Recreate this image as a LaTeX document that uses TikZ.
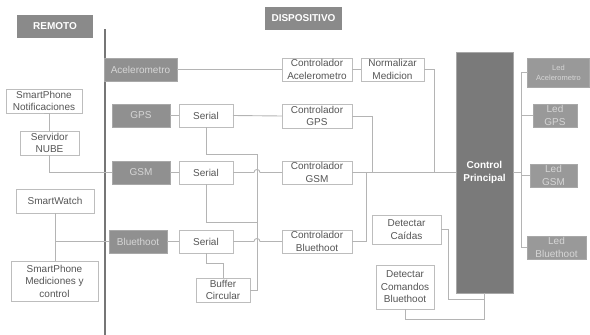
\documentclass[tikz,border=0pt]{standalone}
\usepackage{fontspec}
\setmainfont{Liberation Sans}
\usetikzlibrary{calc}
\definecolor{lnc}{HTML}{B4B4B4}
\definecolor{bdc}{HTML}{BDBDBD}
\definecolor{txc}{HTML}{555555}
\definecolor{gfill}{HTML}{909090}
\definecolor{gbord}{HTML}{A8A8A8}
\definecolor{gtxt}{HTML}{D6D6D6}
\definecolor{hfill}{HTML}{8A8A8A}
\definecolor{cfill}{HTML}{7A7A7A}
\definecolor{divc}{HTML}{767676}
\begin{document}
\begin{tikzpicture}[x=1pt,y=-1pt,
  every node/.style={inner sep=0pt, outer sep=0pt, align=center, font=\fontsize{10}{12.5}\selectfont},
  wbox/.style={draw=bdc, line width=0.9pt, fill=white, text=txc},
  gbox/.style={draw=gbord, line width=0.9pt, fill=gfill, text=gtxt},
  hbox/.style={fill=hfill, text=white, font=\fontsize{10}{12.5}\selectfont\bfseries},
  lbox/.style={draw=gbord, line width=0.9pt, fill=gfill!92!white, text=gtxt},
  conn/.style={draw=lnc, line width=0.9pt},
  sz/.style 2 args={minimum width=#1pt, minimum height=#2pt}
]
\useasboundingbox (0,0) rectangle (590,335);
% headers
\node[hbox, sz={76}{23}] (rem) at (55,26.5) {REMOTO};
\node[hbox, sz={77}{23}] (disp) at (303.5,18.5) {DISPOSITIVO};
% divider
\coordinate (dtop) at (104.5,29);
\coordinate (dbot) at (104.5,335);
\draw[divc, line width=2pt] (dtop) -- (dbot);
% remote
\node[wbox, sz={76}{24}] (spn) at (44,101) {SmartPhone\\Notificaciones};
\node[wbox, sz={59}{24}] (serv) at (49.5,143) {Servidor\\NUBE};
\node[wbox, sz={78}{24}] (sw) at (55,201) {SmartWatch};
\node[wbox, sz={87}{40}] (spm) at (54.5,281) {SmartPhone\\Mediciones y\\control};
% sensors
\node[gbox, sz={73}{23}] (acel) at (140.5,69.5) {Acelerometro};
\node[gbox, sz={58}{23}] (gps) at (141,115.5) {GPS};
\node[gbox, sz={58}{23}] (gsm) at (141,172.5) {GSM};
\node[gbox, sz={58}{23}] (bt) at (138,241.5) {Bluethoot};
% serials
\node[wbox, sz={54}{23}] (sgps) at (206,115.5) {Serial};
\node[wbox, sz={54}{23}] (sgsm) at (206,172.5) {Serial};
\node[wbox, sz={54}{23}] (sbt) at (206,241.5) {Serial};
\node[wbox, sz={54}{24}] (buf) at (223,290) {Buffer\\Circular};
% controllers
\node[wbox, sz={70}{23}] (cacel) at (317,69.5) {Controlador\\Acelerometro};
\node[wbox, sz={63}{23}] (norm) at (392.5,69.5) {Normalizar\\Medicion};
\node[wbox, sz={70}{24}] (cgps) at (317,116) {Controlador\\GPS};
\node[wbox, sz={70}{23}] (cgsm) at (317,172.5) {Controlador\\GSM};
\node[wbox, sz={70}{23}] (cbt) at (317,241.5) {Controlador\\Bluethoot};
\node[wbox, sz={69}{29}] (dcai) at (406.5,229.5) {Detectar\\Caídas};
\node[wbox, sz={58}{44}] (dcom) at (405,287) {Detectar\\Comandos\\Bluethoot};
% control principal
\node[fill=cfill, draw=gbord, line width=0.5pt, text=white, font=\fontsize{10}{12.5}\selectfont\bfseries, sz={57}{241}] (cp) at (484.5,172.5) {Control\\Principal};
% leds
\node[lbox, sz={62}{29}, font=\fontsize{7.5}{10}\selectfont] (lacel) at (558.5,72.5) {Led\\Acelerometro};
\node[lbox, sz={44}{23}] (lgps) at (555,115.5) {Led\\GPS};
\node[lbox, sz={47}{23}] (lgsm) at (553.5,175.5) {Led\\GSM};
\node[lbox, sz={59}{23}] (lbt) at (556.5,247.5) {Led\\Bluethoot};
% helper coordinates
\coordinate (bus) at (257,0);
\coordinate (tr) at (521,0);
% remote connectors
\draw[conn] (spn.south) -- (serv.south |- spn.south) -- (serv.north);
\draw[conn] (serv.south) |- (gsm.west);
\draw[conn] (sw.south) -- (spm.north -| sw.south);
\draw[conn] (bt.west) -- (sw.south |- bt.west);
% device connectors
\draw[conn] (acel.east) -- (cacel.west);
\draw[conn] (cacel.east) -- (norm.west);
\draw[conn] (norm.east) -- ++(10,0) |- (cp.west);
\draw[conn] (gps.east) -- (sgps.west);
\draw[conn] (sgps.east) -- (cgps.west);
\draw[conn] (cgps.east) -- ++(20,0) |- (cp.west);
\draw[conn] (gsm.east) -- (sgsm.west);
\draw[conn] (sgsm.east) -- ($(bus |- sgsm.east)+(-3,0)$) .. controls +(0,-4) and +(0,-4) .. ($(bus |- sgsm.east)+(3,0)$) -- (cgsm.west);
\draw[conn] (cgsm.east) -- (cp.west);
\draw[conn] (bt.east) -- (sbt.west);
\draw[conn] (sbt.east) -- ($(bus |- sbt.east)+(-3,0)$) .. controls +(0,-4) and +(0,-4) .. ($(bus |- sbt.east)+(3,0)$) -- (cbt.west);
\draw[conn] (cbt.east) -- ++(14,0) |- (cp.west);
\draw[conn] (sgps.south) -- ++(0,27) -| (bus |- buf.east) -- (buf.east);
\draw[conn] (sgsm.south) |- (bus |- 0,222);
\draw[conn] (sbt.south) -- ++(0,10) -| (buf.north);
\draw[conn] (dcai.east) -- ++(7,0) |- (cp.south |- 0,299);
\draw[conn] (cp.south) -- ++(0,26) -| (dcom.south);
% leds connectors
\draw[conn] (cp.east) -- (tr |- cp.east);
\draw[conn] (lacel.west) -- (tr |- lacel.west) -- (tr |- lbt.west) -- (lbt.west);
\draw[conn] (lgps.west) -- (tr |- lgps.west);
\draw[conn] (lgsm.west) -- (tr |- lgsm.west);
\end{tikzpicture}
\end{document}
